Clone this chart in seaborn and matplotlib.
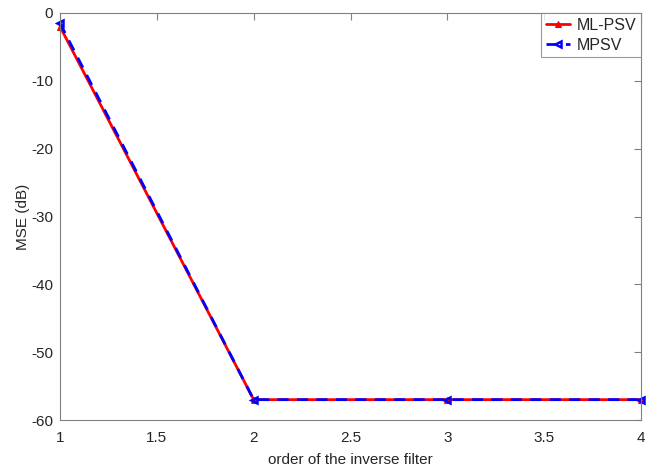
import matplotlib
matplotlib.use("Agg")
import matplotlib.pyplot as plt
import seaborn as sns
import pandas as pd

order = [1, 2, 3, 4]
ml_psv = [-2.0, -57.0, -57.0, -57.0]
mpsv = [-1.5, -57.0, -57.0, -57.0]

sns.set_style("white")
plt.rcParams['font.family'] = ['Liberation Sans', 'DejaVu Sans']

fig = plt.figure(figsize=(6.49, 4.71), dpi=100)
ax = fig.add_axes([60/649, 51/471, 581/649, 407/471])

df = pd.DataFrame({"order": order * 2,
                   "mse": ml_psv + mpsv,
                   "method": ["ML-PSV"] * 4 + ["MPSV"] * 4})

sns.lineplot(data=df[df.method == "ML-PSV"], x="order", y="mse", ax=ax,
             color="red", lw=2, marker="^", markersize=5, markeredgecolor="red",
             label="ML-PSV", clip_on=False)
sns.lineplot(data=df[df.method == "MPSV"], x="order", y="mse", ax=ax,
             color="blue", lw=2, linestyle=(0, (4, 3)), marker="<", markersize=5,
             markerfacecolor="none", markeredgecolor="blue", markeredgewidth=1.8,
             label="MPSV", clip_on=False)

ax.set_xlim(1, 4)
ax.set_ylim(-60, 0)
ax.set_xticks([1, 1.5, 2, 2.5, 3, 3.5, 4])
ax.set_xticklabels(["1", "1.5", "2", "2.5", "3", "3.5", "4"])
ax.set_yticks([0, -10, -20, -30, -40, -50, -60])
ax.set_yticklabels(["0", "-10", "-20", "-30", "-40", "-50", "-60"])
ax.set_xlabel("order of the inverse filter", fontsize=11, color="#262626", labelpad=6)
ax.set_ylabel("MSE (dB)", fontsize=11, color="#262626", labelpad=1)
ax.tick_params(axis="x", pad=8)
ax.tick_params(axis="y", pad=5)
ax.tick_params(direction="in", length=5, width=0.8, colors="#808080",
               labelcolor="#262626", labelsize=11, top=True, right=True)
for s in ax.spines.values():
    s.set_color("#808080")
    s.set_linewidth(0.8)

leg = ax.legend(loc="upper right", fontsize=11.5, frameon=True, fancybox=False,
                borderaxespad=0, handlelength=1.5, borderpad=0.3,
                labelspacing=0.3, handletextpad=0.4)
leg.get_frame().set_edgecolor("#808080")
leg.get_frame().set_linewidth(0.8)

fig.savefig("out.png", dpi=100)
